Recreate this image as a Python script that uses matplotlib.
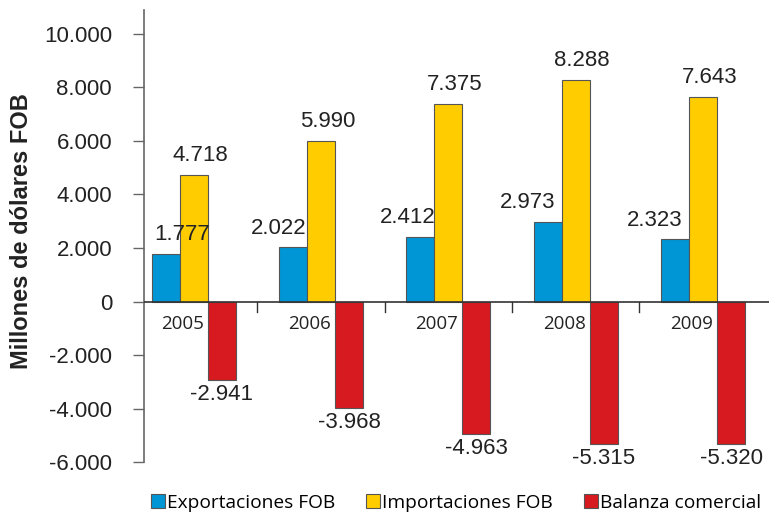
import numpy as np
import matplotlib
matplotlib.use("Agg")
import matplotlib.pyplot as plt
from matplotlib.ticker import FuncFormatter

years = ["2005", "2006", "2007", "2008", "2009"]
exportaciones = [1777, 2022, 2412, 2973, 2323]
importaciones = [4718, 5990, 7375, 8288, 7643]
balanza = [-2941, -3968, -4963, -5315, -5320]

series_names = ["Exportaciones FOB", "Importaciones FOB", "Balanza comercial"]
colors = ["#0096d6", "#ffcc00", "#d71920"]

plt.rcParams['font.family'] = ['Liberation Sans', 'DejaVu Sans']


def fmt_num(v):
    s = f"{abs(v):,}".replace(",", ".")
    return ("-" if v < 0 else "") + s


fig = plt.figure(figsize=(7.7, 5.18), dpi=100)
ax = fig.add_axes([0.187, 0.108, 0.812, 0.873])

x = np.arange(len(years))
w = 0.22
edge = "#555555"
b1 = ax.bar(x - w, exportaciones, w, color=colors[0], edgecolor=edge, linewidth=0.8, label=series_names[0])
b2 = ax.bar(x, importaciones, w, color=colors[1], edgecolor=edge, linewidth=0.8, label=series_names[1])
b3 = ax.bar(x + w, balanza, w, color=colors[2], edgecolor=edge, linewidth=0.8, label=series_names[2])

txt = "#222222"
# horizontal nudges of the export labels, as placed in the original
exp_dx = [0.13, -0.11, -0.10, -0.16, -0.16]
for xi, v, dx in zip(x, exportaciones, exp_dx):
    ax.text(xi - w + dx, v + 330, fmt_num(v), ha="center", va="bottom", fontsize=16, color=txt)
for xi, v in zip(x, importaciones):
    ax.text(xi + 0.05, v + 330, fmt_num(v), ha="center", va="bottom", fontsize=16, color=txt)
for xi, v in zip(x, balanza):
    ax.text(xi + w, v - 150, fmt_num(v), ha="center", va="top", fontsize=16, color=txt)
for xi, y in zip(x, years):
    ax.text(xi - 0.09, -520, y, ha="center", va="top", fontsize=13.5, color=txt,
            family=["Open Sans", "DejaVu Sans"])

ax.set_xlim(-0.39, 4.52)
ax.set_ylim(-6000, 10900)
ax.set_yticks(np.arange(-6000, 10001, 2000))
ax.yaxis.set_major_formatter(FuncFormatter(lambda v, p: fmt_num(int(v))))
ax.tick_params(axis="y", labelsize=16, labelcolor=txt, length=8, width=1, color="#666666", pad=15)

# x axis drawn as the zero line with ticks at category boundaries
ax.axhline(0, color="#333333", linewidth=1.2, zorder=3)
for b in x[:-1] + 0.5:
    ax.plot([b, b], [0, -400], color="#333333", linewidth=1, zorder=3)
ax.set_xticks([])

for s in ["top", "right", "bottom"]:
    ax.spines[s].set_visible(False)
ax.spines["left"].set_color("#666666")
ax.spines["left"].set_linewidth(1.2)

ax.set_ylabel("Millones de dólares FOB", fontsize=17, fontweight="bold", color=txt)
ax.yaxis.set_label_coords(-0.178, 0.51)

fig.legend(handles=[b1, b2, b3], labels=series_names, loc="lower center",
           bbox_to_anchor=(0.592, -0.022), ncol=3, frameon=False,
           prop={"family": ["Open Sans", "DejaVu Sans"], "size": 13.8},
           handlelength=0.75, handleheight=0.75, handletextpad=0.1, columnspacing=1.6)

fig.savefig("out.png", dpi=100)
